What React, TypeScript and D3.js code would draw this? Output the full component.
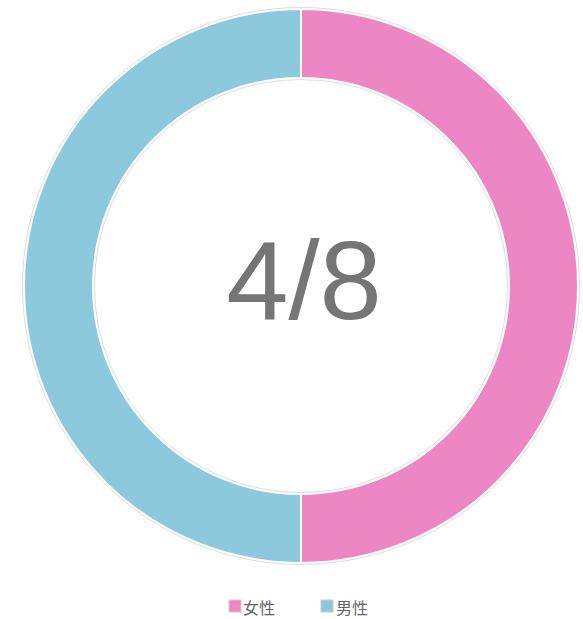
import React from "react";
import * as d3 from "d3";

const categories = ["女性", "男性"];
const values = [4, 4];
const colors = ["#EC87C3", "#8DC9DC"];
const centerLabel = "4/8";

export default function App() {
  const width = 583;
  const height = 619;
  const cx = 301;
  const cy = 286;
  const outerR = 277;
  const innerR = 208;
  const data = categories.map((c, i) => ({ name: c, value: values[i], color: colors[i] }));
  const pie = d3.pie<any>().sort(null).value((d: any) => d.value);
  const arc = d3.arc<any>().innerRadius(innerR).outerRadius(outerR);
  const arcs = pie(data);
  const legendY = 607;
  const legendItems = [
    { x: 229, tx: 243 },
    { x: 321, tx: 336 },
  ];
  return (
    <svg
      width={width}
      height={height}
      style={{ position: "absolute", left: 0, top: 0 }}
    >
      <rect width={width} height={height} fill="#fff" />
      <g transform={`translate(${cx},${cy})`}>
        {arcs.map((a, i) => (
          <path key={i} d={arc(a) || ""} fill={a.data.color} stroke="#fff" strokeWidth={2} />
        ))}
        <circle r={outerR + 1.5} fill="none" stroke="#ddd" strokeWidth={1} />
        <circle r={innerR - 1.5} fill="none" stroke="#ddd" strokeWidth={1} />
        <text
          x={3}
          y={-6}
          textAnchor="middle"
          dominantBaseline="central"
          fontFamily="Liberation Sans, Arial, sans-serif"
          fontSize={112}
          fill="#757575"
        >
          {centerLabel}
        </text>
      </g>
      {data.map((d, i) => (
        <g key={d.name}>
          <rect x={legendItems[i].x} y={legendY - 7} width={12} height={12} fill={d.color} stroke="#ccc" strokeWidth={1} />
          <text
            x={legendItems[i].tx}
            y={legendY}
            dominantBaseline="central"
            fontFamily="Noto Sans CJK SC, sans-serif"
            fontSize={16}
            fill="#666"
          >
            {d.name}
          </text>
        </g>
      ))}
    </svg>
  );
}
